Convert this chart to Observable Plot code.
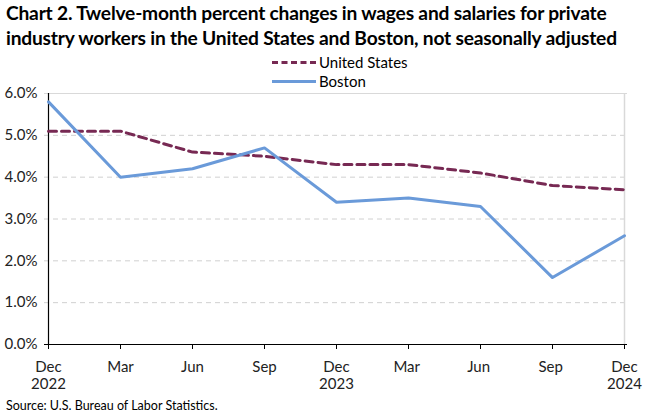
<!DOCTYPE html>
<html><head><meta charset="utf-8">
<script src="https://cdn.jsdelivr.net/npm/d3@7"></script>
<script src="https://cdn.jsdelivr.net/npm/@observablehq/plot@0.6"></script>
<style>
body{margin:0;background:#fff;font-family:Lato,"Open Sans",sans-serif;color:#000;}
#wrap{position:relative;width:667px;height:413px;overflow:hidden;}
#title{position:absolute;left:6px;top:0px;font-weight:bold;font-size:19.2px;line-height:25px;letter-spacing:-0.2px;}
#legend{position:absolute;left:272px;top:53px;font-size:15px;line-height:19px;}
.li{display:flex;align-items:center;}
.sw{width:44px;height:0;margin-right:3px;}
#chart{position:absolute;left:0;top:0;}
#source{position:absolute;left:6px;top:398px;font-size:12.5px;}
</style></head>
<body>
<div id="wrap">
<div id="chart"></div>
<div id="title">Chart 2. Twelve-month percent changes in wages and salaries for private<br>industry workers in the United States and Boston, not seasonally adjusted</div>
<div id="legend">
 <div class="li"><div class="sw" style="border-top:3px dashed #772953"></div>United States</div>
 <div class="li"><div class="sw" style="border-top:3px solid #6A9AD9"></div>Boston</div>
</div>
<div id="source">Source: U.S. Bureau of Labor Statistics.</div>
</div>
<script>
const periods = ["Dec\n2022","Mar","Jun","Sep","Dec\n2023","Mar ","Jun ","Sep ","Dec\n2024"];
const usValues = [5.1,5.1,4.6,4.5,4.3,4.3,4.1,3.8,3.7];
const bostonValues = [5.8,4.0,4.2,4.7,3.4,3.5,3.3,1.6,2.6];
const yTicks = [0,1,2,3,4,5,6];

const us = periods.map((p,i)=>({p, v: usValues[i]}));
const bos = periods.map((p,i)=>({p, v: bostonValues[i]}));

const plot = Plot.plot({
  width: 667, height: 398,
  marginTop: 93, marginLeft: 44, marginRight: 40, marginBottom: 54,
  style: {fontFamily: "Lato, 'Open Sans', sans-serif", fontSize: "15px", color: "#222", background: "transparent"},
  x: {type: "point", domain: periods, padding: 0, label: null},
  y: {domain: [0,6], ticks: yTicks, label: null, tickFormat: d => d.toFixed(1) + "%"},
  marks: [
    Plot.ruleY(yTicks.filter(d=>d>0 && d<6), {stroke: "#d0d0d0", strokeDasharray: "5,4", strokeWidth: 1}),
    Plot.ruleY([6], {stroke: "#d9d9d9", strokeWidth: 1}),
    Plot.ruleX([periods[periods.length-1]], {stroke: "#d9d9d9", strokeWidth: 1.5}),
    Plot.axisY({ticks: yTicks, tickSize: 0, tickPadding: 7, tickFormat: d => d.toFixed(1) + "%", fontSize: 15}),
    Plot.axisX({tickSize: 5, tickPadding: 10, fontSize: 15, lineHeight: 1.15, stroke: "#000", strokeWidth: 1}),
    Plot.ruleY([0], {stroke: "#000", strokeWidth: 1.2}),
    Plot.ruleX([periods[0]], {stroke: "#000", strokeWidth: 1.2}),
    Plot.line(us, {x: "p", y: "v", stroke: "#772953", strokeWidth: 3, strokeDasharray: "8,5"}),
    Plot.line(bos, {x: "p", y: "v", stroke: "#6A9AD9", strokeWidth: 3})
  ]
});
document.getElementById("chart").appendChild(plot);
</script>
</body></html>
